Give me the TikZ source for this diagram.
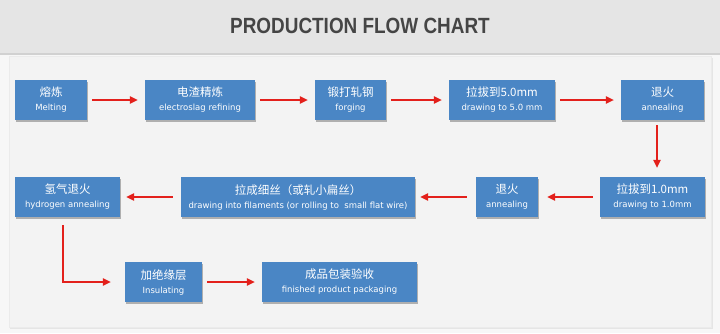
\documentclass[tikz,border=0pt]{standalone}
\usepackage{fontspec}
\usepackage{graphicx}
\usetikzlibrary{arrows.meta,shadows}
\newfontfamily\zhfont{Noto Sans CJK SC}
\newfontfamily\enfont{DejaVu Sans}
\newfontfamily\ttlfont{Liberation Sans}
\definecolor{boxblue}{HTML}{4A86C5}
\definecolor{arrred}{HTML}{E3201B}
\definecolor{bandgray}{HTML}{E5E5E5}
\definecolor{panelgray}{HTML}{F3F3F3}
\definecolor{titlegray}{HTML}{454545}
\tikzset{
  stepbox/.style={draw=none, fill=boxblue, text=white, align=center, minimum height=40pt, inner sep=0pt,
    font=\fontsize{8.5}{14}\selectfont\enfont,
    drop shadow={shadow xshift=1.2pt, shadow yshift=-1.5pt, fill=black, opacity=0.28}},
  arr/.style={draw=arrred, line width=1.2pt, -{Triangle[length=8pt,width=7.5pt]}, shorten <=5pt, shorten >=7pt},
}
\newcommand{\zh}[1]{{\fontsize{11.5}{14}\selectfont\zhfont #1}}
\begin{document}
\begin{tikzpicture}[x=1pt,y=-1pt]
\useasboundingbox (0,0) rectangle (720,333);
\fill[white!97!black] (0,0) rectangle (720,333);
% top band
\fill[black!18] (0,52) rectangle (720,54.5);
\fill[bandgray] (0,0) rectangle (720,52.5);
\node[text=titlegray, font=\fontsize{22}{24}\selectfont\ttlfont\bfseries] (title) at (360,26) {\scalebox{0.86}[1]{PRODUCTION FLOW CHART}};
% panel
\fill[black!10] (10,58) rectangle (713,329);
\filldraw[fill=panelgray, draw=black!8] (9,56) rectangle (711,327);
% row 1
\node[stepbox, minimum width=72pt]  (m1) at (51,100)   {\zh{熔炼}\\Melting};
\node[stepbox, minimum width=110pt] (m2) at (200,100)  {\zh{电渣精炼}\\electroslag refining};
\node[stepbox, minimum width=71pt]  (m3) at (350.5,100){\zh{锻打轧钢}\\forging};
\node[stepbox, minimum width=106pt] (m4) at (502,100)  {\zh{拉拔到5.0mm}\\drawing to 5.0 mm};
\node[stepbox, minimum width=83pt]  (m5) at (662.5,100){\zh{退火}\\annealing};
% row 2
\node[stepbox, minimum width=105pt] (n1) at (652.5,197){\zh{拉拔到1.0mm}\\drawing to 1.0mm};
\node[stepbox, minimum width=62pt]  (n2) at (507,197)  {\zh{退火}\\annealing};
\node[stepbox, minimum width=234pt] (n3) at (298,197)  {\zh{拉成细丝（或轧小扁丝）}\\drawing into filaments (or rolling to\ \ small flat wire)};
\node[stepbox, minimum width=105pt] (n4) at (67.5,197) {\zh{氢气退火}\\hydrogen annealing};
% row 3
\node[stepbox, minimum width=77pt]  (p1) at (163.5,282){\zh{加绝缘层}\\Insulating};
\node[stepbox, minimum width=155pt] (p2) at (339.5,282){\zh{成品包装验收}\\finished product packaging};
% arrows
\draw[arr] (m1) -- (m2);
\draw[arr] (m2) -- (m3);
\draw[arr] (m3) -- (m4);
\draw[arr] (m4) -- (m5);
\draw[arr, shorten >=9pt] ([xshift=-5.5pt]m5.south) -- ([xshift=4.5pt]n1.north);
\draw[arr, shorten <=7pt, shorten >=9pt] (n1) -- (n2);
\draw[arr, shorten <=9pt, shorten >=5pt] (n2) -- (n3);
\draw[arr, shorten <=8pt, shorten >=6pt] (n3) -- (n4);
\coordinate (elb) at (63,282);
\draw[arr, shorten <=8pt, shorten >=14pt] ([xshift=-4.5pt]n4.south) -- (elb) -- (p1.west);
\draw[arr] (p1) -- (p2);
\end{tikzpicture}
\end{document}
